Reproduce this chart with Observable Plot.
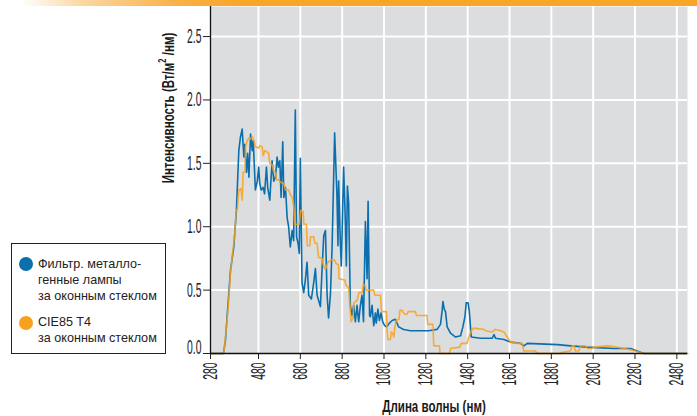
<!DOCTYPE html>
<html>
<head>
<meta charset="utf-8">
<script src="https://cdn.jsdelivr.net/npm/d3@7"></script>
<script src="https://cdn.jsdelivr.net/npm/@observablehq/plot@0.6"></script>
<style>
  html, body { margin: 0; padding: 0; background: #fff; }
  body { width: 697px; height: 416px; overflow: hidden; position: relative; font-family: "Liberation Sans", Arial, sans-serif; }
  #topbar { height: 6px; background: linear-gradient(to right, #ffffff 3%, #fbd6a0 12%, #f9b24a 25%, #f8a628 34%, #f8a628 100%); }
  #chart svg { display: block; }
  #legend { position: absolute; left: 11px; top: 243px; width: 155px; height: 111px; border: 1.3px solid #222; box-sizing: border-box; background: #fff; }
  #legend .dot { position: absolute; width: 14px; height: 14px; border-radius: 50%; }
  #legend .txt { position: absolute; left: 26px; font-size: 12.6px; line-height: 16.4px; color: #222; white-space: nowrap; }
</style>
</head>
<body>
<div id="topbar"></div>
<div id="chart"></div>
<div id="legend"></div>
<script>
// Spectral irradiance, W/m²/nm, by wavelength (nm)
const metalHalideNm = [280, 334, 342, 363, 377, 388, 398, 405, 412, 419, 423, 430, 435, 440, 447, 454, 458, 467, 475, 481, 486, 493, 502, 509, 518, 524, 534, 545, 553, 561, 569, 575, 582, 588, 596, 601, 609, 617, 624, 632, 641, 648, 656, 662, 669, 675, 680, 688, 696, 704, 712, 720, 733, 744, 752, 760, 776, 784, 792, 800, 808, 815, 824, 832, 844, 855, 860, 863, 871, 876, 887, 895, 900, 905, 911, 919, 927, 935, 943, 951, 959, 967, 975, 982, 991, 999, 1004, 1011, 1015, 1023, 1031, 1039, 1043, 1051, 1058, 1066, 1074, 1083, 1093, 1106, 1119, 1134, 1150, 1174, 1206, 1246, 1294, 1334, 1350, 1358, 1362, 1368, 1374, 1382, 1398, 1422, 1446, 1457, 1467, 1473, 1482, 1488, 1497, 1541, 1597, 1606, 1613, 1653, 1685, 1733, 1749, 1765, 1909, 1973, 2051, 2179, 2259, 2322, 2531];
const metalHalideVal = [0, 0, 0.10, 0.65, 0.84, 1.13, 1.60, 1.71, 1.77, 1.55, 1.65, 1.43, 1.58, 1.39, 1.73, 1.60, 1.68, 1.29, 1.36, 1.47, 1.34, 1.29, 1.31, 1.26, 1.47, 1.31, 1.21, 1.52, 1.36, 1.39, 1.55, 1.47, 1.52, 1.23, 1.67, 1.23, 1.31, 1.07, 1.00, 0.84, 0.97, 0.89, 1.92, 0.92, 0.87, 0.79, 1.54, 0.56, 0.48, 0.58, 0.72, 0.46, 0.43, 0.56, 0.67, 0.46, 0.37, 0.67, 0.93, 0.97, 0.46, 0.28, 0.47, 0.85, 1.74, 1.25, 0.85, 1.36, 0.89, 0.69, 1.47, 1.05, 0.69, 1.32, 1.19, 0.38, 0.30, 0.38, 0.25, 0.38, 0.25, 0.38, 0.46, 0.25, 1.04, 0.59, 1.20, 0.30, 0.29, 0.38, 0.22, 0.32, 0.24, 0.35, 0.26, 0.32, 0.25, 0.22, 0.21, 0.24, 0.26, 0.27, 0.21, 0.19, 0.18, 0.18, 0.18, 0.19, 0.23, 0.34, 0.41, 0.35, 0.33, 0.21, 0.16, 0.13, 0.14, 0.21, 0.29, 0.40, 0.40, 0.33, 0.13, 0.12, 0.12, 0.15, 0.12, 0.11, 0.09, 0.08, 0.06, 0.08, 0.07, 0.06, 0.05, 0.04, 0.04, 0, 0];

const cie85Nm = [280, 335, 345, 354, 363, 373, 381, 387, 392, 398, 407, 412, 416, 424, 426, 433, 440, 445, 454, 461, 467, 481, 486, 498, 502, 510, 521, 528, 534, 545, 553, 561, 566, 577, 585, 601, 609, 624, 633, 642, 649, 654, 676, 681, 693, 697, 709, 713, 725, 729, 744, 750, 760, 767, 784, 788, 795, 802, 812, 829, 843, 850, 862, 865, 892, 898, 911, 917, 923, 932, 936, 952, 960, 975, 980, 989, 994, 1031, 1036, 1063, 1068, 1092, 1095, 1098, 1111, 1114, 1121, 1127, 1132, 1138, 1152, 1156, 1167, 1173, 1180, 1190, 1196, 1230, 1235, 1286, 1289, 1314, 1318, 1345, 1348, 1394, 1398, 1442, 1449, 1477, 1485, 1497, 1509, 1557, 1565, 1597, 1613, 1637, 1653, 1669, 1685, 1717, 1741, 1748, 1804, 1812, 1924, 1932, 1971, 1980, 1990, 1994, 2011, 2019, 2043, 2051, 2075, 2083, 2147, 2195, 2259, 2322, 2531];
const cie85Val = [0, 0, 0.18, 0.37, 0.63, 0.81, 0.94, 1.13, 1.14, 1.29, 1.30, 1.21, 1.43, 1.43, 1.63, 1.68, 1.70, 1.69, 1.71, 1.68, 1.63, 1.62, 1.64, 1.63, 1.56, 1.60, 1.59, 1.58, 1.50, 1.49, 1.43, 1.43, 1.37, 1.37, 1.35, 1.34, 1.29, 1.29, 1.25, 1.23, 1.15, 1.02, 1.02, 1.13, 1.12, 1.02, 1.02, 0.85, 0.85, 0.92, 0.92, 0.87, 0.87, 0.76, 0.75, 0.71, 0.67, 0.67, 0.72, 0.74, 0.74, 0.71, 0.70, 0.59, 0.58, 0.54, 0.52, 0.38, 0.25, 0.28, 0.40, 0.42, 0.48, 0.48, 0.54, 0.54, 0.50, 0.50, 0.46, 0.46, 0.33, 0.33, 0.18, 0.11, 0.11, 0.17, 0.16, 0.13, 0.21, 0.26, 0.27, 0.34, 0.34, 0.32, 0.31, 0.31, 0.33, 0.33, 0.30, 0.30, 0.23, 0.23, 0.06, 0.06, 0, 0, 0.04, 0.05, 0.08, 0.08, 0.13, 0.18, 0.20, 0.19, 0.18, 0.17, 0.19, 0.18, 0.17, 0.13, 0.09, 0.08, 0.08, 0.02, 0.02, 0, 0, 0.01, 0.02, 0.06, 0.06, 0.02, 0.02, 0.06, 0.06, 0.04, 0.04, 0.05, 0.06, 0.05, 0.03, 0, 0];

const xTicks = [280, 480, 680, 880, 1080, 1280, 1480, 1680, 1880, 2080, 2280, 2480];
const yTicks = [0, 0.5, 1.0, 1.5, 2.0, 2.5];

const seriesNames = ["Фильтр. металло-\nгенные лампы\nза оконным стеклом", "CIE85 T4\nза оконным стеклом"];
const seriesColors = ["#0b6fae", "#f7a21e"];

const xTitle = "Длина волны (нм)";

const metalHalide = metalHalideNm.map((nm, i) => ({nm, v: metalHalideVal[i]}));
const cie85 = cie85Nm.map((nm, i) => ({nm, v: cie85Val[i]}));

const tickFont = `"Liberation Sans", Arial, sans-serif`;

const chart = Plot.plot({
  width: 697,
  height: 410,
  marginTop: 0,
  marginBottom: 63,
  marginLeft: 210,
  marginRight: 10,
  style: {background: "transparent", fontFamily: tickFont, fontSize: "20px", color: "#222"},
  // first interval (280–480) is drawn a little wider than the rest
  x: {type: "linear", domain: [280, 480, 2531], range: [210, 258, 687]},
  y: {domain: [0, 2.737]},
  marks: [
    Plot.frame({fill: "#dcdddf", stroke: null}),
    Plot.gridX(xTicks.slice(1), {stroke: "#fff", strokeOpacity: 1, strokeWidth: 2}),
    Plot.gridY(yTicks.slice(1), {stroke: "#fff", strokeOpacity: 1, strokeWidth: 2}),
    Plot.line(metalHalide, {x: "nm", y: "v", stroke: seriesColors[0], strokeWidth: 1.6, strokeLinejoin: "round"}),
    Plot.line(cie85, {x: "nm", y: "v", stroke: seriesColors[1], strokeWidth: 1.6, strokeOpacity: 0.85, strokeLinejoin: "round"}),
    Plot.axisY(yTicks, {tickFormat: d3.format(".1f"), tickSize: 7, tickPadding: 2, label: null, stroke: "#222"}),
    Plot.axisX(xTicks, {tickFormat: d => String(d), tickRotate: -90, tickSize: 6, tickPadding: 3, label: null, stroke: "#222"}),
    Plot.ruleX([280], {stroke: "#111", strokeWidth: 1.3}),
    Plot.ruleY([0], {stroke: "#111", strokeWidth: 1.3})
  ]
});

document.getElementById("chart").appendChild(chart);

// condensed look for tick labels
const svg = d3.select(chart);
svg.selectAll('g[aria-label="y-axis tick label"] text, g[aria-label="x-axis tick label"] text').each(function() {
  const t = d3.select(this);
  t.attr("transform", (t.attr("transform") || "") + " scale(0.52,1)");
});
// the zero label sits just above the x axis
svg.selectAll('g[aria-label="y-axis tick label"] text').filter(function() { return this.textContent === "0.0"; })
  .attr("dy", "-0.3em");

// axis titles
const yTitle = svg.append("text")
  .attr("transform", "translate(168,102) rotate(-90) scale(0.68,1)")
  .attr("text-anchor", "middle")
  .attr("dominant-baseline", "central")
  .attr("font-family", tickFont)
  .attr("font-weight", "bold")
  .attr("font-size", 17)
  .attr("fill", "#1a1a1a");
yTitle.append("tspan").text("Интенсивность (Вт/м");
yTitle.append("tspan").attr("baseline-shift", "super").attr("font-size", 11).text("2");
yTitle.append("tspan").text(" /нм)");

svg.append("text")
  .attr("transform", "translate(434,406) scale(0.68,1)")
  .attr("text-anchor", "middle")
  .attr("font-family", tickFont)
  .attr("font-weight", "bold")
  .attr("font-size", 17)
  .attr("fill", "#1a1a1a")
  .text(xTitle);

// legend
const legend = d3.select("#legend");
const blocks = [{top: 11.5, dotTop: 13}, {top: 70, dotTop: 72}];
seriesNames.forEach((name, i) => {
  legend.append("div").attr("class", "dot")
    .style("left", "7px").style("top", blocks[i].dotTop + "px")
    .style("background", seriesColors[i]);
  legend.append("div").attr("class", "txt")
    .style("top", blocks[i].top + "px")
    .html(name.split("\n").join("<br>"));
});
</script>
</body>
</html>
